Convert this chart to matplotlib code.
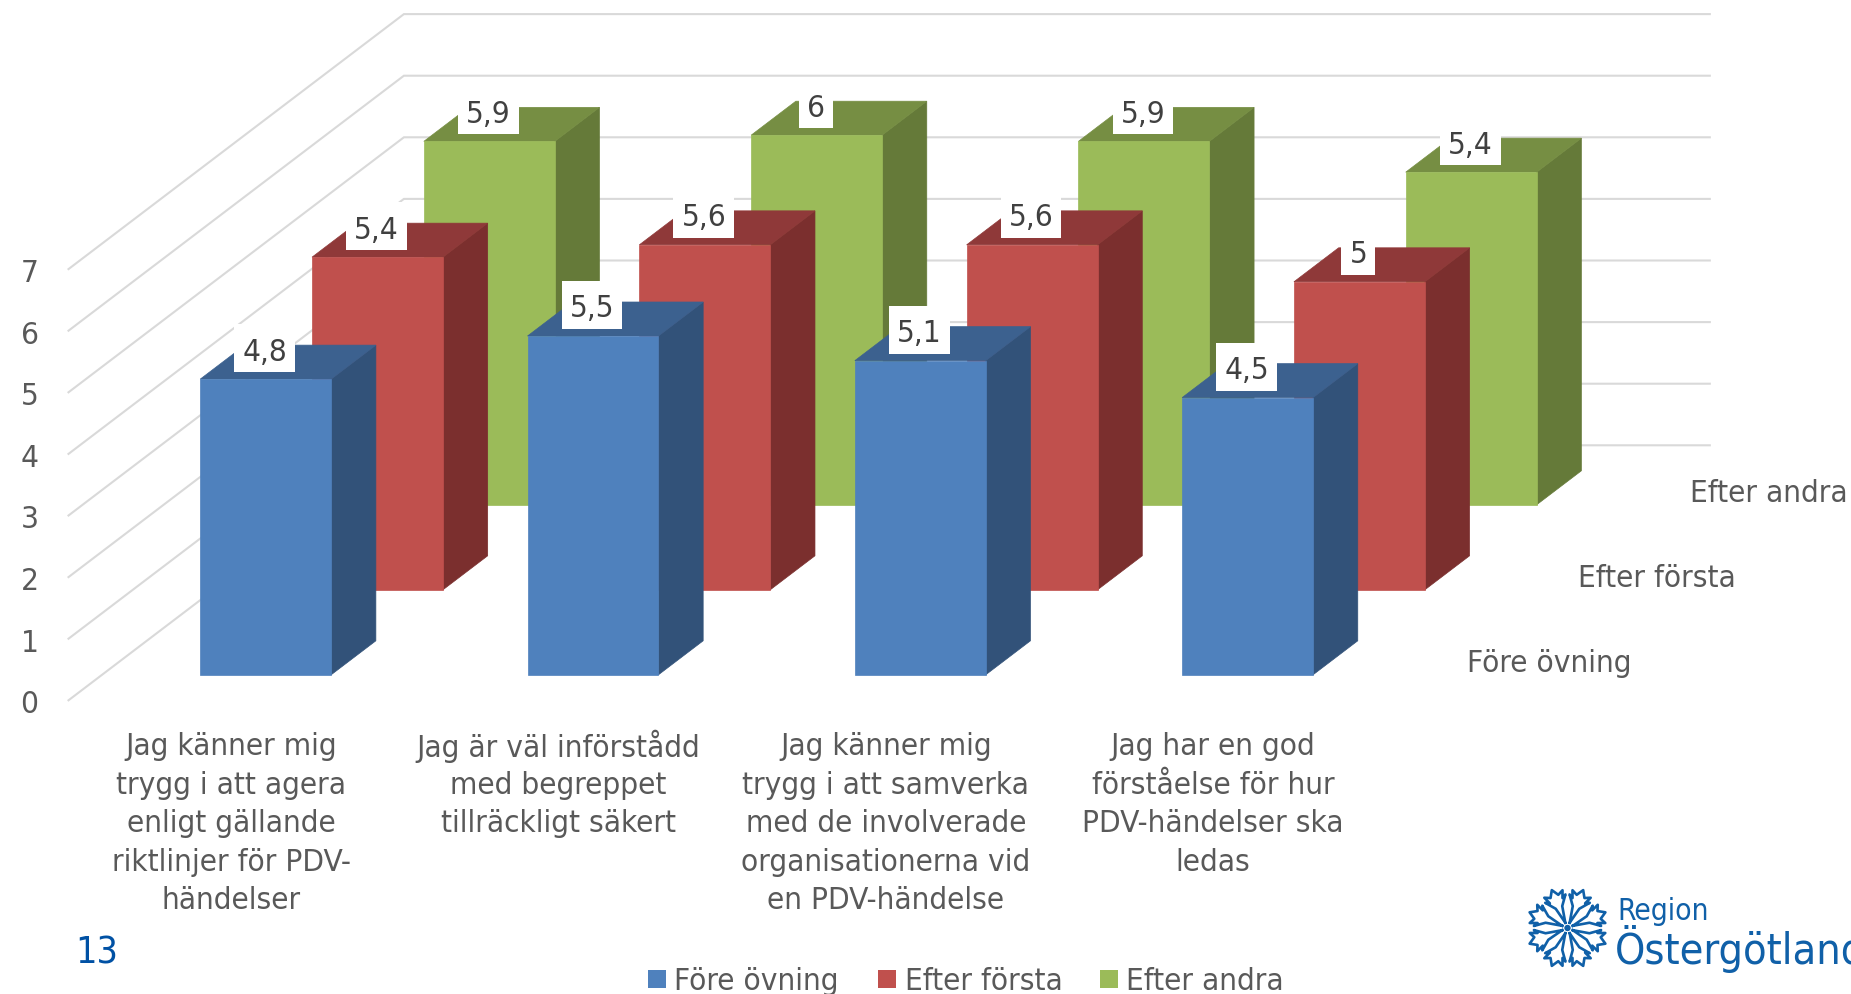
import numpy as np
import matplotlib
matplotlib.use("Agg")
import matplotlib.pyplot as plt
from matplotlib.patches import Polygon, Rectangle

# ---- data ----
categories = [
    "Jag känner mig\ntrygg i att agera\nenligt gällande\nriktlinjer för PDV-\nhändelser",
    "Jag är väl införstådd\nmed begreppet\ntillräckligt säkert",
    "Jag känner mig\ntrygg i att samverka\nmed de involverade\norganisationerna vid\nen PDV-händelse",
    "Jag har en god\nförståelse för hur\nPDV-händelser ska\nledas",
]
series_names = ["Före övning", "Efter första", "Efter andra"]
fore_ovning = [4.8, 5.5, 5.1, 4.5]
efter_forsta = [5.4, 5.6, 5.6, 5.0]
efter_andra = [5.9, 6.0, 5.9, 5.4]
value_ticks = [0, 1, 2, 3, 4, 5, 6, 7]
face_colors = ["#4F81BD", "#C0504D", "#9BBB59"]
side_colors = ["#325279", "#7B2F2E", "#657A39"]
top_colors = ["#3C618F", "#8F3939", "#768E43"]

GREY = "#595959"
LABEL = "#404040"
GRID = "#D9D9D9"
LOGO = "#1060A8"
FONT = dict(family="DejaVu Sans", stretch="condensed")
FS = 22.6

# ---- oblique projection (category, depth, value) -> pixels ----
X0, Y0 = 68.5, 701.3
CAT_PX, DX_PX, DY_PX, VAL_PX = 327.3, 111.8, 85.0, 61.6
GRID_END = 3.99

def proj(c, d, v):
    return X0 + CAT_PX * c + DX_PX * d, Y0 - DY_PX * d - VAL_PX * v

def fmt(v):
    return f"{v:g}".replace(".", ",")

fig = plt.figure(figsize=(18.51, 9.95), dpi=100, facecolor="white")
ax = fig.add_axes([0, 0, 1, 1])
ax.set_xlim(0, 1851)
ax.set_ylim(995, 0)
ax.axis("off")

ncat, nser = len(categories), len(series_names)

# gridlines: floor-wise diagonal, then along the back wall
for v in value_ticks:
    pts = [proj(0, 0, v), proj(0, nser, v), proj(GRID_END, nser, v)]
    ax.plot(*zip(*pts), color=GRID, lw=1.5, zorder=1, solid_joinstyle="miter")
    x, y = proj(0, 0, v)
    ax.text(29.5, y + 3.5, str(v), ha="center", va="center", color=GREY, fontsize=FS, **FONT)

# bars, back row first
all_series = [fore_ovning, efter_forsta, efter_andra]
HW, HD = 0.2, 0.2
z = 5
label_jobs = []
for s in reversed(range(nser)):
    for c in range(ncat):
        v = all_series[s][c]
        cc, dd = c + 0.5, s + 0.5
        l, r = cc - HW, cc + HW
        f, b = dd - HD, dd + HD
        face = [proj(l, f, 0), proj(r, f, 0), proj(r, f, v), proj(l, f, v)]
        side = [proj(r, f, 0), proj(r, b, 0), proj(r, b, v), proj(r, f, v)]
        top = [proj(l, f, v), proj(r, f, v), proj(r, b, v), proj(l, b, v)]
        ax.add_patch(Polygon(side, closed=True, fc=side_colors[s], ec=side_colors[s], lw=0.5, zorder=z))
        ax.add_patch(Polygon(top, closed=True, fc=top_colors[s], ec=top_colors[s], lw=0.5, zorder=z))
        ax.add_patch(Polygon(face, closed=True, fc=face_colors[s], ec=face_colors[s], lw=0.5, zorder=z))
        z += 1
        px, py = proj(cc, f, v)
        label_jobs.append((px - 1, py, fmt(v), z))
        z += 2

# data labels with white boxes tied to the bar top
renderer = fig.canvas.get_renderer()
for px, py, txt, zz in label_jobs:
    t = ax.text(px, py - 28, txt, ha="center", va="center", color=LABEL, fontsize=FS, zorder=zz + 1, **FONT)
    w = t.get_window_extent(renderer).width + 16
    ax.add_patch(Rectangle((px - w / 2, py - 55), w, 48, fc="white", ec="none", zorder=zz))

# category labels
for c, lab in enumerate(categories):
    x, _ = proj(c + 0.5, 0, 0)
    for i, line in enumerate(lab.split("\n")):
        ax.text(x - 1, 746.5 + 38.6 * i, line, ha="center", va="center", color=GREY, fontsize=FS, **FONT)

# depth-axis labels
for s, name in enumerate(series_names):
    x, y = proj(ncat, s + 0.5, 0)
    ax.text(x + 33, y + 4.5, name, ha="left", va="center", color=GREY, fontsize=FS, **FONT)

# legend
for sq, tx, name, col in zip([648, 878, 1100], [674, 905, 1126], series_names, face_colors):
    ax.add_patch(Rectangle((sq, 971), 18, 18, fc=col, ec="none"))
    ax.text(tx, 982, name, ha="left", va="center", color=GREY, fontsize=FS, **FONT)

# slide number
ax.text(75, 953, "13", ha="left", va="center", color="#0051A4", fontsize=FS + 4.4, **FONT)

# logo
cx, cy, R = 1567.5, 929.0, 41.0
rad = np.array([0.14, 0.55, 0.82, 0.74, 0.93, 0.84, 1.0, 0.84, 0.93, 0.74, 0.82, 0.55, 0.14]) * R
ang = np.deg2rad([0, 9, 19, 13, 15, 7, 0, -7, -15, -13, -19, -9, 0])
for k in range(8):
    a = np.deg2rad(22.5 + 45 * k)
    ax.plot(cx + rad * np.cos(a + ang), cy + rad * np.sin(a + ang), color=LOGO, lw=1.9, zorder=3)
ax.add_patch(plt.Circle((cx, cy), 2.5, color=LOGO, zorder=3))
ax.text(1617, 911, "Region", ha="left", va="center", color=LOGO, fontsize=21.5, **FONT)
ax.text(1615, 949, "Östergötland", ha="left", va="center", color=LOGO, fontsize=31, **FONT)

fig.savefig("out.png", dpi=100)
